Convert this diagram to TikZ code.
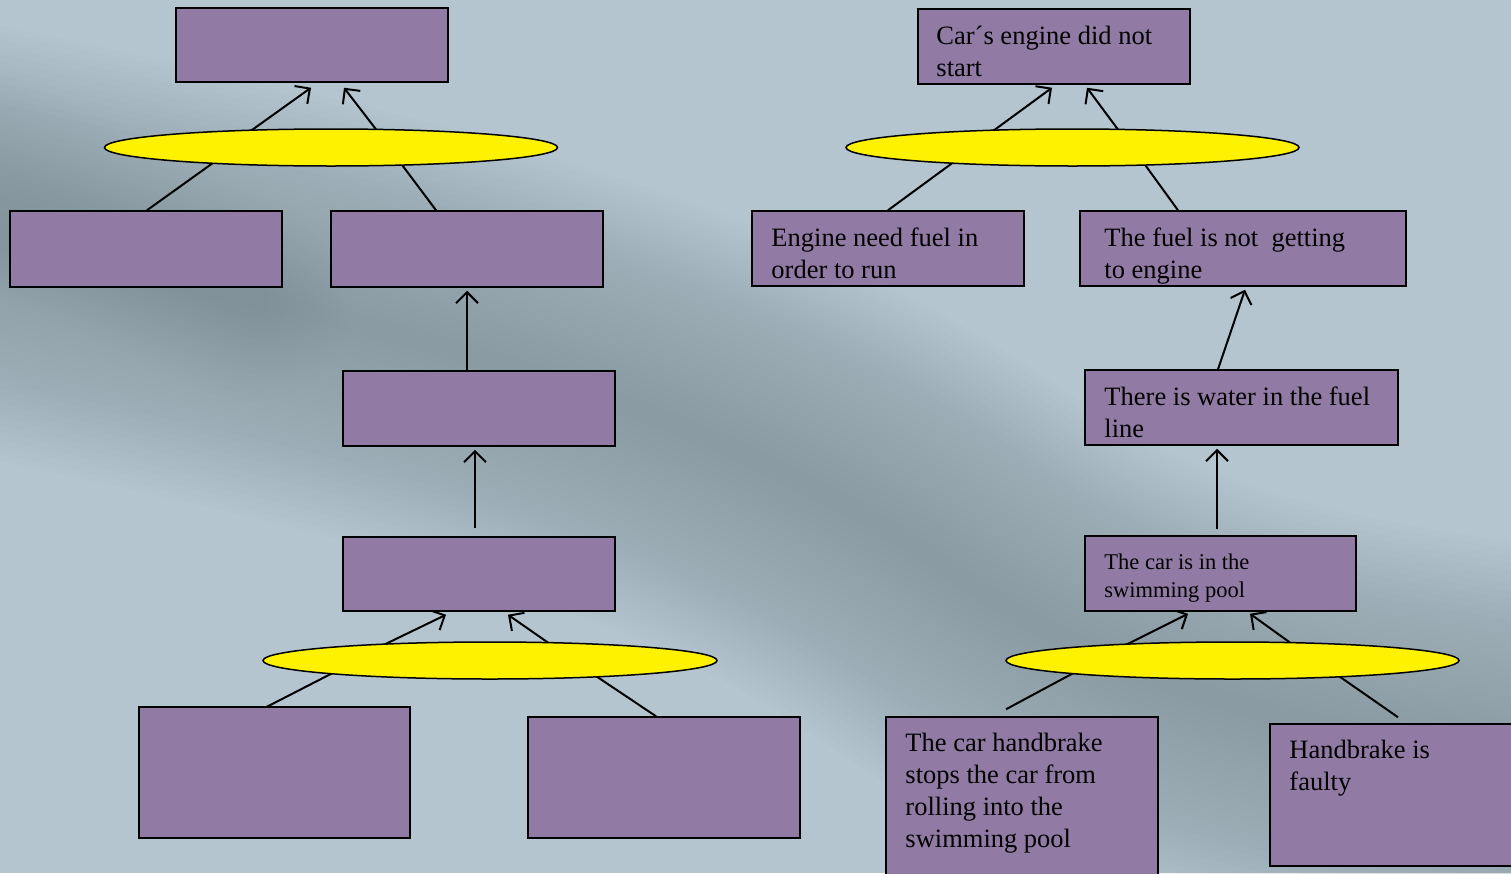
\documentclass[tikz,border=0pt]{standalone}
\usepackage{fontspec}
\setmainfont{Liberation Serif}
\usetikzlibrary{arrows.meta,calc,shapes.geometric}
\pgfdeclarelayer{back}
\pgfdeclarelayer{links}
\pgfsetlayers{back,links,main}
\definecolor{bgc}{HTML}{B4C5D0}
\definecolor{bandc}{HTML}{6C7A80}
\definecolor{boxc}{HTML}{917AA4}
\tikzset{
  box/.style={draw=black, line width=1.5pt, fill=boxc, rectangle, inner sep=0pt},
  oval/.style={draw=black, line width=1.5pt, fill=yellow, ellipse, inner sep=0pt},
  link/.style={line width=2pt, draw=black},
  arr/.style={link, -{Straight Barb[length=11pt,width=22pt,line width=2pt]}},
  lbl/.style={anchor=base west, inner sep=0pt, font=\fontsize{26.5}{32}\selectfont},
  lbls/.style={anchor=base west, inner sep=0pt, font=\fontsize{22.5}{28}\selectfont},
}
\newcommand\boxtext[1]{\begin{tabular}[t]{@{}l@{}}#1\end{tabular}}
\begin{document}
\begin{tikzpicture}[x=1pt,y=-1pt]
\useasboundingbox (0,0) rectangle (1511,873);
\begin{pgfonlayer}{back}
  \fill[bgc] (0,0) rectangle (1511,873);
  \foreach \i in {1,...,30} {
    \pgfmathsetmacro\w{440-\i*14}
    \draw[bandc, line width=\w pt, opacity=0.018, line cap=round]
      (-200,200) .. controls (250,300) and (650,360) .. (950,570)
      .. controls (1150,710) and (1350,740) .. (1700,780);
  }
  \foreach \i in {1,...,10} {
    \pgfmathsetmacro\w{220-\i*18}
    \draw[bandc, line width=\w pt, opacity=0.014, line cap=round]
      (-200,110) .. controls (-50,150) and (100,230) .. (250,300);
  }
\end{pgfonlayer}

% left tree
\node[box, minimum width=272pt, minimum height=74pt] (L1) at (312,45) {};
\node[box, minimum width=272pt, minimum height=76pt] (L2) at (146,249) {};
\node[box, minimum width=272pt, minimum height=76pt] (L3) at (467,249) {};
\node[box, minimum width=272pt, minimum height=75pt] (L4) at (479,408.5) {};
\node[box, minimum width=272pt, minimum height=74pt] (L5) at (479,574) {};
\node[box, minimum width=271pt, minimum height=131pt] (L6) at (274.5,772.5) {};
\node[box, minimum width=272pt, minimum height=121pt] (L7) at (664,777.5) {};
\node[oval, minimum width=453pt, minimum height=37pt] (E1) at (331,147.5) {};
\node[oval, minimum width=454pt, minimum height=37pt] (E2) at (490,660.5) {};

% right tree
\node[box, minimum width=272pt, minimum height=75pt] (R1) at (1054,46.5) {};
\node[box, minimum width=272pt, minimum height=75pt] (R2) at (888,248.5) {};
\node[box, minimum width=326pt, minimum height=75pt] (R3) at (1243,248.5) {};
\node[box, minimum width=313pt, minimum height=75pt] (R4) at (1241.5,407.5) {};
\node[box, minimum width=271pt, minimum height=75pt] (R5) at (1220.5,573.5) {};
\node[box, minimum width=272pt, minimum height=163pt] (R6) at (1022,798.5) {};
\node[box, minimum width=250pt, minimum height=142pt] (R7) at (1395,795) {};
\node[oval, minimum width=453pt, minimum height=37pt] (E3) at (1072.5,147.5) {};
\node[oval, minimum width=453pt, minimum height=37pt] (E4) at (1232.5,660.5) {};

% texts
\node[lbl] (tR1) at ($(R1.north west)+(19,36)$) {\boxtext{Car´s engine did not\\start}};
\node[lbl] (tR2) at ($(R2.north west)+(20,36)$) {\boxtext{Engine need fuel in\\order to run}};
\node[lbl] (tR3) at ($(R3.north west)+(25,36)$) {\boxtext{The fuel is not\ \ getting\\to engine}};
\node[lbl] (tR4) at ($(R4.north west)+(20,36)$) {\boxtext{There is water in the fuel\\line}};
\node[lbls] (tR5) at ($(R5.north west)+(20,34)$) {\boxtext{The car is in the\\swimming pool}};
\node[lbl] (tR6) at ($(R6.north west)+(20,35)$) {\boxtext{The car handbrake\\stops the car from\\rolling into the\\swimming pool}};
\node[lbl] (tR7) at ($(R7.north west)+(20,35)$) {\boxtext{Handbrake is\\faulty}};

\begin{pgfonlayer}{links}
  % left
  \draw[arr] ($(E1.center)+(-103.5,0)$) -- ($(L1.south)+(-1,5)$);
  \draw[arr] ($(E1.center)+(59,0)$) -- ($(L1.south)+(32,5)$);
  \draw[link] ($(L2.north)+(1,0)$) -- ($(E1.center)+(-96.5,0)$);
  \draw[link] ($(L3.north)+(-31,0)$) -- ($(E1.center)+(58,0)$);
  \draw[arr] ($(L4.north)+(-12,0)$) -- ($(L3.south)+(0,3)$);
  \draw[arr] ($(L5.north)+(-4,-8)$) -- ($(L4.south)+(-4,3)$);
  \draw[arr] ($(E2.center)+(-138.6,0)$) -- ($(L5.south)+(-33,3)$);
  \draw[arr] ($(E2.center)+(83.7,0)$) -- ($(L5.south)+(29,3)$);
  \draw[link] ($(L6.north)+(-10.5,2)$) -- ($(E2.center)+(-133,0)$);
  \draw[link] ($(L7.north)+(-8,0)$) -- ($(E2.center)+(82.7,0)$);
  % right
  \draw[arr] ($(E3.center)+(-102,0)$) -- ($(R1.south)+(-2,3)$);
  \draw[arr] ($(E3.center)+(58.8,0)$) -- ($(R1.south)+(33,3)$);
  \draw[link] (R2.north) -- ($(E3.center)+(-99,0)$);
  \draw[link] ($(R3.north)+(-65,0)$) -- ($(E3.center)+(60,0)$);
  \draw[arr] ($(R4.north)+(-23.5,0)$) -- ($(R3.south)+(2,3)$);
  \draw[arr] ($(R5.north)+(-3.5,-6)$) -- ($(R4.south)+(-24.5,3)$);
  \draw[arr] ($(E4.center)+(-138,0)$) -- ($(R5.south)+(-32.5,2)$);
  \draw[arr] ($(E4.center)+(82.4,0)$) -- ($(R5.south)+(29.5,2)$);
  \draw[link] ($(R6.north)+(-16,-7)$) -- ($(E4.center)+(-135.75,0)$);
  \draw[link] ($(R7.north)+(3,-6)$) -- ($(E4.center)+(84,0)$);
\end{pgfonlayer}
\end{tikzpicture}
\end{document}
